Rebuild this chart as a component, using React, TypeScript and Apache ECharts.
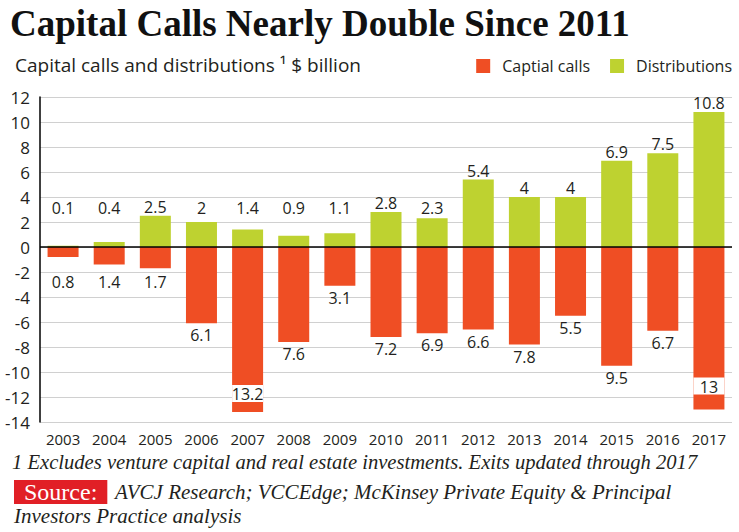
import React, { useEffect, useRef } from "react";
import * as echarts from "echarts";

const years = ["2003","2004","2005","2006","2007","2008","2009","2010","2011","2012","2013","2014","2015","2016","2017"];
const capitalCalls = [0.8, 1.4, 1.7, 6.1, 13.2, 7.6, 3.1, 7.2, 6.9, 6.6, 7.8, 5.5, 9.5, 6.7, 13];
const distributions = [0.1, 0.4, 2.5, 2, 1.4, 0.9, 1.1, 2.8, 2.3, 5.4, 4, 4, 6.9, 7.5, 10.8];
const yMin = -14;
const yMax = 12;
const yStep = 2;

const RED = "#ef4e24";
const GREEN = "#bed230";
const TEXT = "#231f20";
const SANS = "Open Sans";
const SERIF = "Liberation Serif";

const GRID_TOP = 97;
const GRID_BOTTOM = 110;
const CHART_H = 532;
const PX_PER_UNIT = (CHART_H - GRID_TOP - GRID_BOTTOM) / (yMax - yMin);
const POS_LABEL_FLOOR = 2.4;
const NEG_LABEL_FLOOR = 1.85;
const whiteLabelLift: Record<string, number> = { "2007": 10, "2017": 15 };

export default function App() {
  const ref = useRef<HTMLDivElement>(null);
  useEffect(() => {
    if (!ref.current) return;
    const chart = echarts.init(ref.current, undefined, { renderer: "svg" });

    const distData = distributions.map((v) => ({
      value: v,
      label: {
        offset: [0, v < POS_LABEL_FLOOR ? -(POS_LABEL_FLOOR - v) * PX_PER_UNIT : 0],
      },
    }));
    const callData = capitalCalls.map((v, i) => {
      const lift = whiteLabelLift[years[i]];
      if (lift !== undefined) {
        return {
          value: -v,
          label: {
            position: "insideBottom",
            distance: lift,
            backgroundColor: "#fff",
            width: 31,
            align: "center",
            padding: [1, 0, 0, 0],
          },
        };
      }
      return {
        value: -v,
        label: {
          offset: [0, v < NEG_LABEL_FLOOR ? (NEG_LABEL_FLOOR - v) * PX_PER_UNIT : 0],
        },
      };
    });

    chart.setOption({
      animation: false,
      backgroundColor: "#fff",
      title: [
        {
          text: "Capital Calls Nearly Double Since 2011",
          left: 10, top: 5, padding: 0,
          textStyle: { fontFamily: SERIF, fontWeight: "bold", fontSize: 37, color: "#111" },
        },
        {
          text: "Capital calls and distributions \u00b9 $ billion",
          left: 15, top: 55, padding: 0,
          textStyle: { fontFamily: SANS, fontWeight: "normal", fontSize: 19, color: TEXT },
        },
        {
          text: "1 Excludes venture capital and real estate investments. Exits updated through 2017",
          left: 12, top: 451, padding: 0,
          textStyle: { fontFamily: SERIF, fontStyle: "italic", fontWeight: "normal", fontSize: 20.6, color: TEXT },
        },
        {
          text: "Source:",
          left: 14, top: 480, padding: [0, 10, 0, 10],
          backgroundColor: "#e11f26",
          textStyle: { fontFamily: SERIF, fontWeight: "normal", fontSize: 24, color: "#fff", lineHeight: 24 },
        },
        {
          text: "AVCJ Research; VCCEdge; McKinsey Private Equity & Principal",
          left: 115, top: 481, padding: 0,
          textStyle: { fontFamily: SERIF, fontStyle: "italic", fontWeight: "normal", fontSize: 21, color: TEXT },
        },
        {
          text: "Investors Practice analysis",
          left: 14, top: 505, padding: 0,
          textStyle: { fontFamily: SERIF, fontStyle: "italic", fontWeight: "normal", fontSize: 21, color: TEXT },
        },
      ],
      legend: {
        right: 7, top: 58, padding: 0,
        itemWidth: 14, itemHeight: 14, itemGap: 20,
        icon: "rect",
        textStyle: { fontFamily: SANS, fontSize: 16, color: TEXT, padding: [0, 0, 0, 7] },
        data: ["Captial calls", "Distributions"],
      },
      grid: { left: 40, right: 7, top: GRID_TOP, bottom: GRID_BOTTOM, containLabel: false },
      xAxis: {
        type: "category",
        data: years,
        axisLine: { show: false, onZero: false },
        axisTick: { show: false },
        axisLabel: { fontFamily: SANS, fontSize: 15, color: TEXT, margin: 9 },
      },
      yAxis: {
        type: "value",
        min: yMin, max: yMax, interval: yStep,
        axisLine: { show: true, lineStyle: { color: "#000", width: 1.5 } },
        axisTick: { show: false },
        axisLabel: { fontFamily: SANS, fontSize: 17, color: TEXT, margin: 10 },
        splitLine: { lineStyle: { color: "#d0d0d0", width: 1 } },
      },
      series: [
        {
          name: "Captial calls",
          type: "bar",
          stack: "total",
          barWidth: 31,
          itemStyle: { color: RED },
          data: callData,
          label: {
            show: true,
            position: "bottom",
            distance: 4,
            fontFamily: SANS, fontSize: 16, color: TEXT,
            formatter: (p: any) => String(Math.abs(p.value)),
          },
          markLine: {
            silent: true,
            symbol: "none",
            label: { show: false },
            lineStyle: { color: "#000", width: 1.5, type: "solid" },
            data: [{ yAxis: 0 }],
            z: 10,
          },
        },
        {
          name: "Distributions",
          type: "bar",
          stack: "total",
          barWidth: 31,
          itemStyle: { color: GREEN },
          data: distData,
          label: {
            show: true,
            position: "top",
            distance: 1,
            fontFamily: SANS, fontSize: 16, color: TEXT,
          },
        },
      ],
    });
    return () => chart.dispose();
  }, []);
  return <div ref={ref} style={{ position: "fixed", left: 0, top: 0, width: 739, height: 532 }} />;
}
